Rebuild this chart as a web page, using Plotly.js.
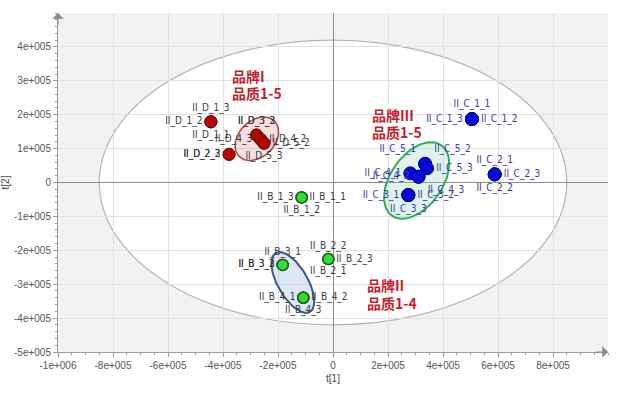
<!DOCTYPE html>
<html>
<head>
<meta charset="utf-8">
<script src="https://cdn.plot.ly/plotly-3.0.1.min.js"></script>
<style>html,body{margin:0;padding:0;background:#fff;}#chart{width:625px;height:396px;}</style>
</head>
<body>
<div id="chart"></div>
<script>
// ---- data (scores t[1], t[2]) ----
const dNames = ["II_D_1_3","II_D_1_2","II_D_1_1","II_D_2_3","II_D_2_2","II_D_3_3","II_D_3_2","II_D_4_3","II_D_4_2","II_D_5_2","II_D_5_3"];
const dT1 = [-444000,-444000,-444000,-378000,-378000,-278000,-278000,-263000,-263000,-251000,-251000];
const dT2 = [179000,179000,179000,83000,83000,140000,140000,127000,127000,116000,116000];

const cNames = ["II_C_1_1","II_C_1_3","II_C_1_2","II_C_2_1","II_C_2_3","II_C_2_2","II_C_5_1","II_C_5_2","II_C_5_3","II_C_4_1","II_C_4_2","II_C_4_3","II_C_3_1","II_C_3_2","II_C_3_3"];
const cT1 = [505000,505000,505000,588000,588000,588000,335000,335000,342000,281000,311000,311000,274000,274000,274000];
const cT2 = [187000,187000,187000,24000,24000,24000,55000,55000,42000,27000,17000,17000,-37000,-37000,-37000];

const bNames = ["II_B_1_3","II_B_1_1","II_B_1_2","II_B_2_2","II_B_2_3","II_B_2_1","II_B_3_1","II_B_3_3","II_B_3_2","II_B_4_1","II_B_4_2","II_B_4_3"];
const bT1 = [-114000,-114000,-114000,-17000,-17000,-17000,-183000,-183000,-183000,-108000,-108000,-108000];
const bT2 = [-44000,-44000,-44000,-226000,-226000,-226000,-243000,-243000,-243000,-340000,-340000,-340000];

const xTickVals = [-1000000,-800000,-600000,-400000,-200000,0,200000,400000,600000,800000];
const xTickText = ["-1e+006","-8e+005","-6e+005","-4e+005","-2e+005","0","2e+005","4e+005","6e+005","8e+005"];
const yTickVals = [-500000,-400000,-300000,-200000,-100000,0,100000,200000,300000,400000];
const yTickText = ["-5e+005","-4e+005","-3e+005","-2e+005","-1e+005","0","1e+005","2e+005","3e+005","4e+005"];

// Hotelling T2 ellipse radii (t1, t2)
const t2Radius = [850000, 420000];

// group ellipses: centers in t1, t2
const grpEllCenterT1 = [-277000, 304000, -146000];
const grpEllCenterT2 = [129000, 6000, -295000];

// group captions
const captions = [["品牌I","品质1-5"],["品牌III","品质1-5"],["品牌II","品质1-4"]];
const captionT1 = [-374500, 134500, 116000];
const captionT2a = [314000, 199000, -302000];
const captionT2b = [264000, 148000, -355000];

// ---- styling / layout constants ----
const dPos = ["top center","middle left","bottom center","middle left","middle left","top center","top center","middle left","middle right","middle right","bottom center"];
const cPos = ["top center","middle left","middle right","top center","middle right","bottom center","top left","top right","middle right","middle left","middle left","bottom right","middle left","middle right","bottom center"];
const bPos = ["middle left","middle right","bottom center","top center","middle right","bottom center","top center","middle left","middle left","middle left","middle right","bottom center"];

const ellA = [25, 43, 34], ellB = [18, 26, 15], ellAng = [45, 55, -60];
const ellFill = ["rgba(215,110,110,0.22)","rgba(150,215,185,0.30)","rgba(170,195,230,0.40)"];
const ellLine = ["#a04545","#2fae5e","#3e5a80"];
const ellWidth = [1.5, 2, 2];

const pxPerX = 550/2000000, pxPerY = 339/1000000;

function ellipse(i){
  const xs=[], ys=[];
  const th = ellAng[i]*Math.PI/180;
  for(let k=0;k<=72;k++){
    const t = 2*Math.PI*k/72;
    const dx = ellA[i]*Math.cos(t)*Math.cos(th) - ellB[i]*Math.sin(t)*Math.sin(th);
    const dy = ellA[i]*Math.cos(t)*Math.sin(th) + ellB[i]*Math.sin(t)*Math.cos(th);
    xs.push(grpEllCenterT1[i] + dx/pxPerX);
    ys.push(grpEllCenterT2[i] + dy/pxPerY);
  }
  return {x:xs, y:ys, type:'scatter', mode:'lines', fill:'toself',
    fillcolor: ellFill[i], line:{color:ellLine[i], width:ellWidth[i]}, hoverinfo:'skip', showlegend:false};
}

const labelFont = "Liberation Sans Narrow, DejaVu Sans Condensed, Arial Narrow, sans-serif";

const traces = [ellipse(0), ellipse(1), ellipse(2),
  {x:dT1, y:dT2, text:dNames, textposition:dPos, type:'scatter', mode:'markers+text',
   marker:{size:12, color:'#b30808', line:{color:'#7a0000', width:1}},
   textfont:{family:labelFont, size:10, color:'#3a3a3a'}, hoverinfo:'skip', showlegend:false, cliponaxis:false},
  {x:cT1, y:cT2, text:cNames, textposition:cPos, type:'scatter', mode:'markers+text',
   marker:{size:13, color:'#0b0bd6', line:{color:'#00008a', width:1}},
   textfont:{family:labelFont, size:10, color:'#3b3ba6'}, hoverinfo:'skip', showlegend:false, cliponaxis:false},
  {x:bT1, y:bT2, text:bNames, textposition:bPos, type:'scatter', mode:'markers+text',
   marker:{size:11, color:'#33dd33', line:{color:'#1d5e1d', width:1.5}},
   textfont:{family:labelFont, size:10, color:'#3a3a3a'}, hoverinfo:'skip', showlegend:false, cliponaxis:false}
];

const annotations = [];
const capFont = {family:'Noto Sans CJK SC, sans-serif', size:14, color:'#c21f2b', weight:'bold'};
for(let i=0;i<captions.length;i++){
  annotations.push({x:captionT1[i], y:captionT2a[i], xref:'x', yref:'y', text:'<b>'+captions[i][0]+'</b>', showarrow:false, xanchor:'left', yanchor:'middle', font:capFont});
  annotations.push({x:captionT1[i], y:captionT2b[i], xref:'x', yref:'y', text:'<b>'+captions[i][1]+'</b>', showarrow:false, xanchor:'left', yanchor:'middle', font:capFont});
}
// axis arrows
annotations.push({x:0, y:1, xref:'paper', yref:'paper', ax:0, ay:13, text:'', showarrow:true, arrowhead:1, arrowsize:1.6, arrowwidth:1.2, arrowcolor:'#8a8a8a'});
annotations.push({x:1, y:0, xref:'paper', yref:'paper', ax:-13, ay:0, text:'', showarrow:true, arrowhead:1, arrowsize:1.6, arrowwidth:1.2, arrowcolor:'#8a8a8a'});

const tickFont = {family:'Liberation Sans, Arial, sans-serif', size:10, color:'#555'};

const layout = {
  width:625, height:396,
  margin:{l:58, r:17, t:13, b:44},
  paper_bgcolor:'#ffffff', plot_bgcolor:'#f2f2f2',
  showlegend:false,
  xaxis:{range:[-1000000,1000000], tickmode:'array', tickvals:xTickVals, ticktext:xTickText,
    showgrid:true, gridcolor:'#e2e2e2', gridwidth:1, zeroline:true, zerolinecolor:'#8c8c8c', zerolinewidth:1,
    showline:true, linecolor:'#9a9a9a', linewidth:1, ticks:'outside', ticklen:4, tickcolor:'#9a9a9a',
    minor:{tickmode:'linear', tick0:0, dtick:50000, ticks:'outside', ticklen:2, tickcolor:'#9a9a9a', showgrid:false},
    tickfont:tickFont, fixedrange:true,
    title:{text:'t[1]', font:{family:'Liberation Sans, Arial, sans-serif', size:10, color:'#444'}, standoff:4}},
  yaxis:{range:[-500000,500000], tickmode:'array', tickvals:yTickVals, ticktext:yTickText,
    showgrid:true, gridcolor:'#e2e2e2', gridwidth:1, zeroline:true, zerolinecolor:'#8c8c8c', zerolinewidth:1,
    showline:true, linecolor:'#9a9a9a', linewidth:1, ticks:'outside', ticklen:4, tickcolor:'#9a9a9a',
    minor:{tickmode:'linear', tick0:0, dtick:20000, ticks:'outside', ticklen:2, tickcolor:'#9a9a9a', showgrid:false},
    tickfont:tickFont, fixedrange:true,
    title:{text:'t[2]', font:{family:'Liberation Sans, Arial, sans-serif', size:10, color:'#444'}, standoff:2}},
  shapes:[{type:'circle', xref:'x', yref:'y', x0:-t2Radius[0], x1:t2Radius[0], y0:-t2Radius[1], y1:t2Radius[1],
    fillcolor:'#ffffff', line:{color:'#b4b4b4', width:1.2}, layer:'below'}],
  annotations:annotations
};

Plotly.newPlot('chart', traces, layout, {staticPlot:true, displayModeBar:false});
</script>
</body>
</html>
